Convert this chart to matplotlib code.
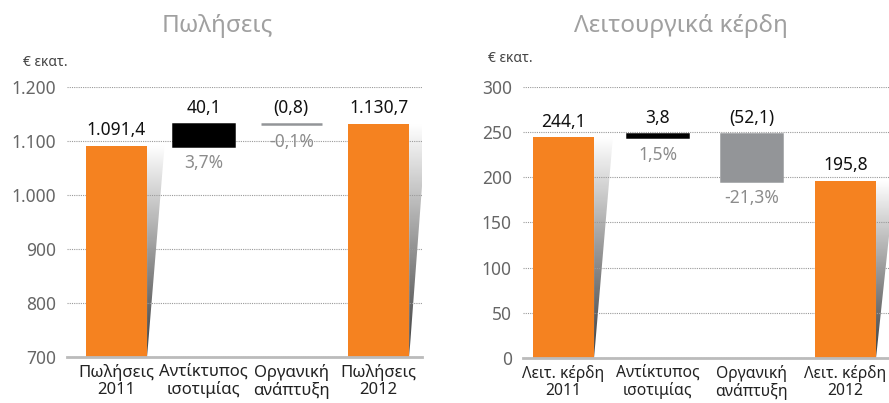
import matplotlib
matplotlib.use("Agg")
import matplotlib.pyplot as plt
import numpy as np
from matplotlib.patches import Polygon
from matplotlib.colors import LinearSegmentedColormap
from matplotlib.ticker import FuncFormatter

plt.rcParams['font.family'] = ['Noto Sans', 'DejaVu Sans']

# data
sales_cats = ["Πωλήσεις\n2011", "Αντίκτυπος\nισοτιμίας", "Οργανική\nανάπτυξη", "Πωλήσεις\n2012"]
sales_values = [1091.4, 40.1, -0.8, 1130.7]
sales_labels = ["1.091,4", "40,1", "(0,8)", "1.130,7"]
sales_pcts = [None, "3,7%", "-0,1%", None]

op_cats = ["Λειτ. κέρδη\n2011", "Αντίκτυπος\nισοτιμίας", "Οργανική\nανάπτυξη", "Λειτ. κέρδη\n2012"]
op_values = [244.1, 3.8, -52.1, 195.8]
op_labels = ["244,1", "3,8", "(52,1)", "195,8"]
op_pcts = [None, "1,5%", "-21,3%", None]

ORANGE = "#f58220"
BLACK = "#000000"
GREY = "#939598"
shade = LinearSegmentedColormap.from_list("shade", ["#3c3c3c", "#9a9a9a", "#ffffff"])


def fmt(v, pos):
    return f"{v:,.0f}".replace(",", ".")


def draw_panel(ax, cats, values, labels, pcts, ylim, yticks, width, xlim, xfs):
    x = np.arange(len(values))
    bottoms, heights, colors = [], [], []
    run = 0
    for i, v in enumerate(values):
        if i == 0 or i == len(values) - 1:
            bottoms.append(0)
            heights.append(v)
            colors.append(ORANGE)
            run = v
        else:
            bottoms.append(run)
            heights.append(v)
            colors.append(BLACK if v > 0 else GREY)
            run += v
    ax.set_xlim(*xlim)
    ax.set_ylim(*ylim)
    lws = [0 if c == ORANGE else 1.8 for c in colors]
    ax.bar(x, heights, bottom=bottoms, width=width, color=colors,
           edgecolor=colors, linewidth=lws, zorder=2)

    # shadow wedge next to the total bars
    for i in (0, len(values) - 1):
        xr = x[i] + width / 2
        top = bottoms[i] + heights[i]
        poly = Polygon([(xr, top), (xr + 0.2, top), (xr, ylim[0])],
                       closed=True, facecolor="none", edgecolor="none")
        ax.add_patch(poly)
        grad = np.linspace(0, 1, 256).reshape(-1, 1)
        im = ax.imshow(grad, cmap=shade, aspect="auto", origin="lower",
                       extent=(xr, xr + 0.2, ylim[0], top), zorder=0.3)
        im.set_clip_path(poly)

    for i, v in enumerate(values):
        top = max(bottoms[i], bottoms[i] + heights[i])
        low = min(bottoms[i], bottoms[i] + heights[i])
        ax.annotate(labels[i], (x[i], top), xytext=(0, 5), textcoords="offset points",
                    ha="center", va="bottom", fontsize=12.5, color="#111111")
        if pcts[i]:
            ax.annotate(pcts[i], (x[i], low), xytext=(0, -6), textcoords="offset points",
                        ha="center", va="top", fontsize=12.5, color="#8c8c8c")

    ax.set_xticks(x)
    ax.set_xticklabels(cats, fontsize=xfs, color="#222222", linespacing=1.05)
    ax.set_yticks(yticks)
    ax.yaxis.set_major_formatter(FuncFormatter(fmt))
    ax.tick_params(axis="both", length=0)
    ax.tick_params(axis="y", colors="#666666", pad=8, labelsize=12.5)
    ax.tick_params(axis="x", pad=5)
    ax.set_axisbelow(True)
    ax.grid(axis="y", linestyle=(0, (1, 1)), color="#9a9a9a", linewidth=0.8)
    for s in ("top", "right", "left"):
        ax.spines[s].set_visible(False)
    ax.spines["bottom"].set_color("#bbbbbb")
    ax.spines["bottom"].set_linewidth(2)
    ax.spines["bottom"].set_zorder(3)


fig = plt.figure(figsize=(8.89, 4.03), dpi=100)
ax1 = fig.add_axes([0.0754, 0.1141, 0.3993, 0.670])
ax2 = fig.add_axes([0.5883, 0.1117, 0.4117, 0.6725])

draw_panel(ax1, sales_cats, sales_values, sales_labels, sales_pcts,
           (700, 1200), [700, 800, 900, 1000, 1100, 1200], 0.70, (-0.566, 3.497), 12)
draw_panel(ax2, op_cats, op_values, op_labels, op_pcts,
           (0, 300), [0, 50, 100, 150, 200, 250, 300], 0.65, (-0.431, 3.463), 11.3)

fig.text(217 / 889, 1 - 26 / 403, "Πωλήσεις", ha="center", va="center",
         fontsize=17.5, color="#a0a0a0", fontweight="light")
fig.text(681 / 889, 1 - 26 / 403, "Λειτουργικά κέρδη", ha="center", va="center",
         fontsize=17.5, color="#a0a0a0", fontweight="light")
fig.text(45 / 889, 1 - 63 / 403, "€ εκατ.", ha="center", va="center",
         fontsize=10, color="#444444")
fig.text(510 / 889, 1 - 59 / 403, "€ εκατ.", ha="center", va="center",
         fontsize=10, color="#444444")

fig.savefig("out.png", dpi=100)
